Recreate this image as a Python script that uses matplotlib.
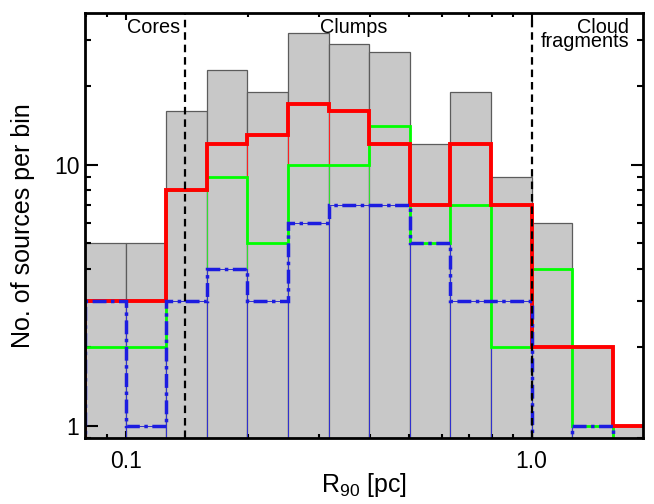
import numpy as np
import matplotlib
matplotlib.use('Agg')
import matplotlib.pyplot as plt
from matplotlib.ticker import FixedLocator, FixedFormatter, LogLocator, NullFormatter

plt.rcParams['font.family'] = ['Liberation Sans', 'DejaVu Sans']
plt.rcParams['mathtext.fontset'] = 'custom'
plt.rcParams['mathtext.rm'] = 'Liberation Sans'
plt.rcParams['mathtext.it'] = 'Liberation Sans:italic'

# 0.1 dex bins in R90
edges = 10 ** np.linspace(-1.1, 0.3, 15)

#counts per bin
n_all = [5, 5, 16, 23, 19, 32, 29, 27, 12, 19, 9, 6, 2, 1]
n_red = [3, 3, 8, 12, 13, 17, 16, 12, 7, 12, 7, 2, 2, 1]
n_green = [2, 2, 8, 9, 5, 10, 10, 14, 5, 7, 2, 4, 1, 0]
n_blue = [3, 1, 3, 4, 3, 6, 7, 7, 5, 3, 3, 0, 1, 0]

# scale boundaries
r_cores = 0.14
r_clumps = 1.0

fig = plt.figure(figsize=(6.54, 5.04), dpi=100)
ax = fig.add_axes([0.130, 0.131, 0.853, 0.843])
ax.set_xscale('log')
ax.set_yscale('log')

widths = np.diff(edges)
ax.bar(edges[:-1], n_all, width=widths, align='edge', color='#c8c8c8',
       edgecolor='#5c5c5c', linewidth=0.9, zorder=1)

# thin bin outlines for each subsample
for vals, col in [(n_red, '#ff2020'), (n_green, '#30e030'), (n_blue, '#3030d0')]:
    ax.bar(edges[:-1], vals, width=widths, align='edge', fill=False,
           edgecolor=col, linewidth=0.7, zorder=2)

ax.stairs(n_green, edges, color='#00ff00', linewidth=2.0, zorder=3)
ax.stairs(n_red, edges, color='#ff0000', linewidth=2.8, zorder=4)
ax.stairs(n_blue, edges, color='#1c1ce0', linewidth=2.5,
          linestyle=(0, (4.0, 1.3, 1.0, 1.3)), zorder=5)

for r in [r_cores, r_clumps]:
    ax.axvline(r, color='k', linewidth=1.6, linestyle=(0, (3.4, 2.2)), zorder=6)

ax.text(0.075, 0.953, 'Cores', transform=ax.transAxes, fontsize=14.3,
        ha='left', va='baseline', zorder=7)
ax.text(0.421, 0.953, 'Clumps', transform=ax.transAxes, fontsize=14.3,
        ha='left', va='baseline', zorder=7)
ax.text(0.975, 0.920, 'Cloud\nfragments', transform=ax.transAxes, fontsize=14.3,
        ha='right', va='baseline', multialignment='right', linespacing=0.68,
        zorder=7)

ax.set_xlim(edges[0], 1.88)
ax.set_ylim(0.9, 38)

ax.xaxis.set_major_locator(FixedLocator([0.1, 1.0]))
ax.xaxis.set_major_formatter(FixedFormatter(['0.1', '1.0']))
ax.xaxis.set_minor_locator(LogLocator(subs=np.arange(2, 10)))
ax.xaxis.set_minor_formatter(NullFormatter())
ax.yaxis.set_major_locator(FixedLocator([1, 10]))
ax.yaxis.set_major_formatter(FixedFormatter(['1', '10']))
ax.yaxis.set_minor_locator(LogLocator(subs=np.arange(2, 10)))
ax.yaxis.set_minor_formatter(NullFormatter())

ax.tick_params(which='both', direction='in', top=True, right=True, width=1.5,
               labelsize=16.5)
ax.tick_params(axis='x', which='major', length=5, pad=9)
ax.tick_params(axis='x', which='minor', length=3)
ax.tick_params(axis='y', which='major', length=9, pad=4)
ax.tick_params(axis='y', which='minor', length=4.5)
for sp in ax.spines.values():
    sp.set_linewidth(2)
    sp.set_zorder(8)

ax.set_xlabel(r'R$_{\rm 90}$ [pc]', fontsize=18, labelpad=-2)
ax.set_ylabel('No. of sources per bin', fontsize=18, labelpad=14)

fig.savefig('out.png', dpi=100)
